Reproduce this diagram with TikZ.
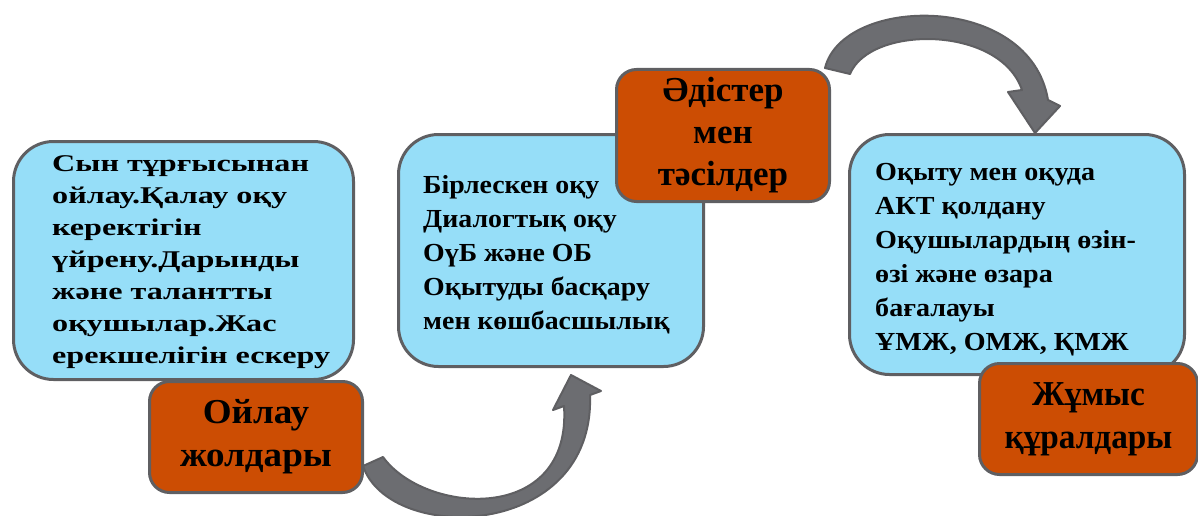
\documentclass[tikz,border=0pt]{standalone}
\usepackage{fontspec}
\setmainfont{Liberation Serif}
\usetikzlibrary{positioning}
\definecolor{boxblue}{RGB}{150,222,248}
\definecolor{labelorange}{RGB}{204,77,3}
\definecolor{rimgray}{RGB}{95,95,98}
\definecolor{arrowgray}{RGB}{108,109,113}
\tikzset{
  infobox/.style={draw=rimgray, line width=3pt, fill=boxblue, rounded corners=40pt, anchor=north west},
  titlebox/.style={draw=rimgray, line width=3pt, fill=labelorange, rounded corners=20pt, anchor=north west,
    align=center, font=\bfseries\fontsize{35}{42}\selectfont},
  boxtext/.style={anchor=west, align=left, inner sep=0pt, font=\bfseries\fontsize{26}{34}\selectfont},
  bendarrow/.style={fill=arrowgray, draw=rimgray, line width=2pt, line join=round},
}

\begin{document}
\begin{tikzpicture}[x=1pt,y=-1pt]
   \useasboundingbox (0,0) rectangle (1198,516);
   % blue boxes
   \node[infobox, minimum width=340pt, minimum height=238pt] (think) at (12,140) {};
   \node[infobox, minimum width=305pt, minimum height=232pt] (method) at (397,133) {};
   \node[infobox, minimum width=335pt, minimum height=240pt] (tool) at (848,133) {};
   %
   \node[boxtext, font=\bfseries\fontsize{24}{32}\selectfont\addfontfeature{FakeStretch=1.34}] (thinktext)
     at ([xshift=40pt,yshift=-2pt]think.west)
     {Сын тұрғысынан\\ойлау.Қалау оқу\\керектігін\\үйрену.Дарынды\\және талантты\\оқушылар.Жас\\ерекшелігін ескеру};
   \node[boxtext, font=\bfseries\fontsize{26}{34}\selectfont\addfontfeature{FakeStretch=1.07}] (methodtext)
     at ([xshift=26pt,yshift=-4pt]method.west)
     {Бірлескен оқу\\Диалогтық оқу\\ОүБ және ОБ\\Оқытуды басқару\\мен көшбасшылық};
   \node[boxtext, font=\bfseries\fontsize{26}{34}\selectfont\addfontfeature{FakeStretch=1.08}] (tooltext)
     at ([xshift=27pt,yshift=-5pt]tool.west)
     {Оқыту мен оқуда\\АКТ қолдану\\Оқушылардың өзін-\\өзі және өзара\\бағалауы\\ҰМЖ, ОМЖ, ҚМЖ};
   % orange labels
   \node[titlebox, minimum width=213pt, minimum height=111pt, font=\bfseries\fontsize{35}{43}\selectfont\addfontfeature{FakeStretch=1.06}]
     (thinklabel) at (148,380) {Ойлау\\жолдары};
   \node[titlebox, minimum width=213pt, minimum height=132pt] (methodlabel) at (615,68) {Әдістер\\мен\\тәсілдер};
   \node[titlebox, minimum width=218pt, minimum height=111pt, font=\bfseries\fontsize{35}{43}\selectfont\addfontfeature{FakeStretch=0.95}]
     (toollabel) at (978,362) {Жұмыс\\құралдары};
   % curved arrows
   \draw[bendarrow] (363,466) .. controls (390,545) and (595,540) .. (590,395)
     -- (601,391) -- (571,375) -- (553,410) -- (564,406)
     .. controls (572,525) and (425,515) .. (383,457) -- cycle;
   \draw[bendarrow] (825,68) .. controls (843,-5) and (1030,-8) .. (1048,100)
     -- (1060,106) -- (1035,133) -- (1008,92) -- (1022,90)
     .. controls (1000,25) and (870,25) .. (850,74) -- cycle;
   %
\end{tikzpicture}
\end{document}
